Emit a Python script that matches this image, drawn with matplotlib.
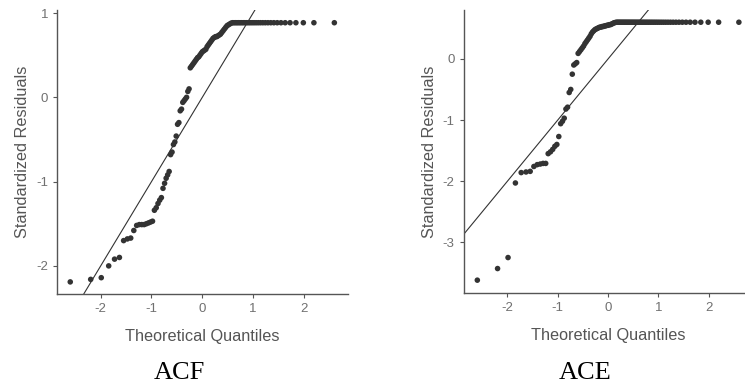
import matplotlib
matplotlib.use("Agg")
import matplotlib.pyplot as plt
from statistics import NormalDist

# sorted standardized residuals (n = 107)
acf_resid = [
    -2.19, -2.16, -2.14, -2.00, -1.92, -1.90, -1.70, -1.68, -1.67, -1.58,
    -1.52, -1.51, -1.51, -1.51, -1.50, -1.49, -1.48, -1.47, -1.34, -1.31,
    -1.26, -1.22, -1.19, -1.08, -1.02, -0.96, -0.92, -0.88, -0.68, -0.65,
    -0.56, -0.53, -0.46, -0.32, -0.30, -0.16, -0.14, -0.06, -0.04, -0.02,
    0.00, 0.07, 0.10, 0.35, 0.37, 0.39, 0.41, 0.43, 0.45, 0.47,
    0.48, 0.50, 0.52, 0.54, 0.55, 0.56, 0.57, 0.60, 0.62, 0.64,
    0.66, 0.68, 0.70, 0.71, 0.72, 0.72, 0.73, 0.74, 0.75, 0.77,
    0.79, 0.81, 0.83, 0.85, 0.86, 0.87, 0.88, 0.885, 0.885, 0.885,
    0.885, 0.885, 0.885, 0.885, 0.885, 0.885, 0.885, 0.885, 0.885, 0.885,
    0.885, 0.885, 0.885, 0.885, 0.885, 0.885, 0.885, 0.885, 0.885, 0.885,
    0.885, 0.885, 0.885, 0.885, 0.885, 0.885, 0.885,
]
ace_resid = [
    -3.62, -3.43, -3.25, -2.03, -1.86, -1.85, -1.84, -1.76, -1.73, -1.72,
    -1.71, -1.71, -1.55, -1.52, -1.48, -1.43, -1.40, -1.27, -1.06, -1.02,
    -0.97, -0.82, -0.79, -0.55, -0.50, -0.25, -0.10, -0.08, -0.06, 0.09,
    0.12, 0.15, 0.18, 0.21, 0.25, 0.28, 0.31, 0.34, 0.37, 0.41,
    0.44, 0.46, 0.48, 0.49, 0.50, 0.51, 0.52, 0.52, 0.53, 0.53,
    0.54, 0.54, 0.55, 0.55, 0.56, 0.56, 0.57, 0.58, 0.59, 0.595,
    0.60, 0.60, 0.60, 0.60, 0.60, 0.60, 0.60, 0.60, 0.60, 0.60,
    0.60, 0.60, 0.60, 0.60, 0.60, 0.60, 0.60, 0.60, 0.60, 0.60,
    0.60, 0.60, 0.60, 0.60, 0.60, 0.60, 0.60, 0.60, 0.60, 0.60,
    0.60, 0.60, 0.60, 0.60, 0.60, 0.60, 0.60, 0.60, 0.60, 0.60,
    0.60, 0.60, 0.60, 0.60, 0.60, 0.60, 0.60,
]
captions = ["ACF", "ACE"]
acf_yticks = [-2, -1, 0, 1]
ace_yticks = [-3, -2, -1, 0]
xticks = [-2, -1, 0, 1, 2]


def theo_quantiles(n):
    nd = NormalDist()
    return [nd.inv_cdf((i - 0.5) / n) for i in range(1, n + 1)]


plt.rcParams["font.family"] = ["Liberation Sans", "DejaVu Sans"]
plt.rcParams["axes.unicode_minus"] = False

fig = plt.figure(figsize=(7.45, 3.88), dpi=100)
W, H = 745, 388

panels = [
    # resid, yticks, (x0, x1, ytop, ybottom) in px, xlim, ylim, caption x
    (acf_resid, acf_yticks, (57, 347.6, 10, 293.7), (-2.86, 2.86), (-2.33, 1.036), 179),
    (ace_resid, ace_yticks, (463.7, 752, 10, 293), (-2.87, 2.86), (-3.83, 0.8), 585.5),
]

for (resid, yt, box, xl, yl, capx), cap in zip(panels, captions):
    x0, x1, yt_px, yb_px = box
    ax = fig.add_axes([x0 / W, (H - yb_px) / H, (x1 - x0) / W, (yb_px - yt_px) / H])
    q = theo_quantiles(len(resid))
    ax.axline((0, 0), slope=1, color="#333333", lw=0.8, zorder=1)
    ax.scatter(q, resid, s=16, color="#333333", edgecolors="none", zorder=2)
    ax.set_xlim(xl)
    ax.set_ylim(yl)
    ax.set_xticks(xticks)
    ax.set_yticks(yt)
    for s in ["top", "right"]:
        ax.spines[s].set_visible(False)
    for s in ["left", "bottom"]:
        ax.spines[s].set_color("#555555")
        ax.spines[s].set_linewidth(1.0)
    ax.tick_params(colors="#555555", labelcolor="#707070", labelsize=9.5,
                   length=3, width=0.8)
    ax.set_xlabel("Theoretical Quantiles", fontsize=11.7, color="#555555", labelpad=10)
    ax.set_ylabel("Standardized Residuals", fontsize=11.7, color="#555555", labelpad=4)
    fig.text(capx / W, (H - 373) / H, cap, fontsize=19, family="Liberation Serif",
             ha="center", va="center", color="black")

fig.savefig("out.png", dpi=100)
